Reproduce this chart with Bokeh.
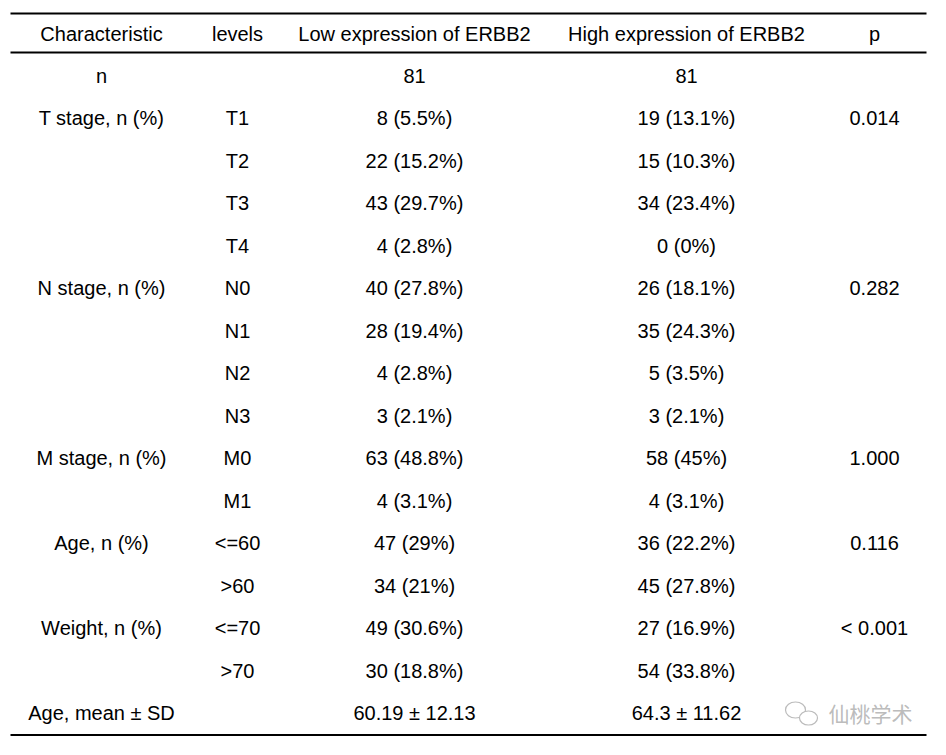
from bokeh.plotting import figure
from bokeh.models import ColumnDataSource, Range1d
from bokeh.core.properties import value
from bokeh.embed import file_html
from bokeh.resources import INLINE

headers = ["Characteristic", "levels", "Low expression of ERBB2", "High expression of ERBB2", "p"]
characteristic = ["n", "T stage, n (%)", "", "", "", "N stage, n (%)", "", "", "",
                  "M stage, n (%)", "", "Age, n (%)", "", "Weight, n (%)", "", "Age, mean ± SD"]
levels = ["", "T1", "T2", "T3", "T4", "N0", "N1", "N2", "N3", "M0", "M1", "<=60", ">60", "<=70", ">70", ""]
low_expr = ["81", "8 (5.5%)", "22 (15.2%)", "43 (29.7%)", "4 (2.8%)", "40 (27.8%)", "28 (19.4%)",
            "4 (2.8%)", "3 (2.1%)", "63 (48.8%)", "4 (3.1%)", "47 (29%)", "34 (21%)",
            "49 (30.6%)", "30 (18.8%)", "60.19 ± 12.13"]
high_expr = ["81", "19 (13.1%)", "15 (10.3%)", "34 (23.4%)", "0 (0%)", "26 (18.1%)", "35 (24.3%)",
             "5 (3.5%)", "3 (2.1%)", "58 (45%)", "4 (3.1%)", "36 (22.2%)", "45 (27.8%)",
             "27 (16.9%)", "54 (33.8%)", "64.3 ± 11.62"]
p_values = ["", "0.014", "", "", "", "0.282", "", "", "", "1.000", "", "0.116", "", "< 0.001", "", ""]

# layout (pixel space of the page)
W, H = 938, 748
col_x = [101, 237, 414, 686, 874]
header_y = 33
row0_y = 75
row_step = 42.5
line_x0, line_x1 = 10, 926

p = figure(width=W, height=H, output_backend="svg", toolbar_location=None,
           x_range=Range1d(0, W), y_range=Range1d(H, 0),
           min_border=0, outline_line_color=None)
p.axis.visible = False
p.grid.visible = False
p.background_fill_color = "white"
p.border_fill_color = "white"

font = value("Liberation Sans")
fs = "20px"

p.text(x=col_x, y=[header_y] * len(headers), text=headers, text_font=font,
       text_font_size=fs, text_align="center", text_baseline="middle", text_color="black")

columns = [characteristic, levels, low_expr, high_expr, p_values]
n_rows = len(characteristic)
ys = [row0_y + i * row_step for i in range(n_rows)]
for cx, col in zip(col_x, columns):
    src = ColumnDataSource(dict(x=[cx] * n_rows, y=ys, t=col))
    p.text(x="x", y="y", text="t", source=src, text_font=font, text_font_size=fs,
           text_align="center", text_baseline="middle", text_color="black")

# rules
top_y = 13
head_line_y = 52
bottom_y = ys[-1] + 22
for yy in [top_y, head_line_y, bottom_y]:
    p.line(x=[line_x0, line_x1], y=[yy, yy], line_color="black", line_width=2)

# watermark
p.text(x=[870], y=[ys[-1]], text=["仙桃学术"], text_font=value("Noto Sans CJK SC"),
       text_font_size="21px", text_align="center", text_baseline="middle",
       text_color="#aaaaaa", text_alpha=0.8)
p.ellipse(x=[795, 808], y=[ys[-1] - 3, ys[-1] + 5], width=[20, 18], height=[16, 14],
          fill_color="white", line_color="#bbbbbb", line_width=1.2)

open("out.html", "w").write(file_html(p, INLINE))
